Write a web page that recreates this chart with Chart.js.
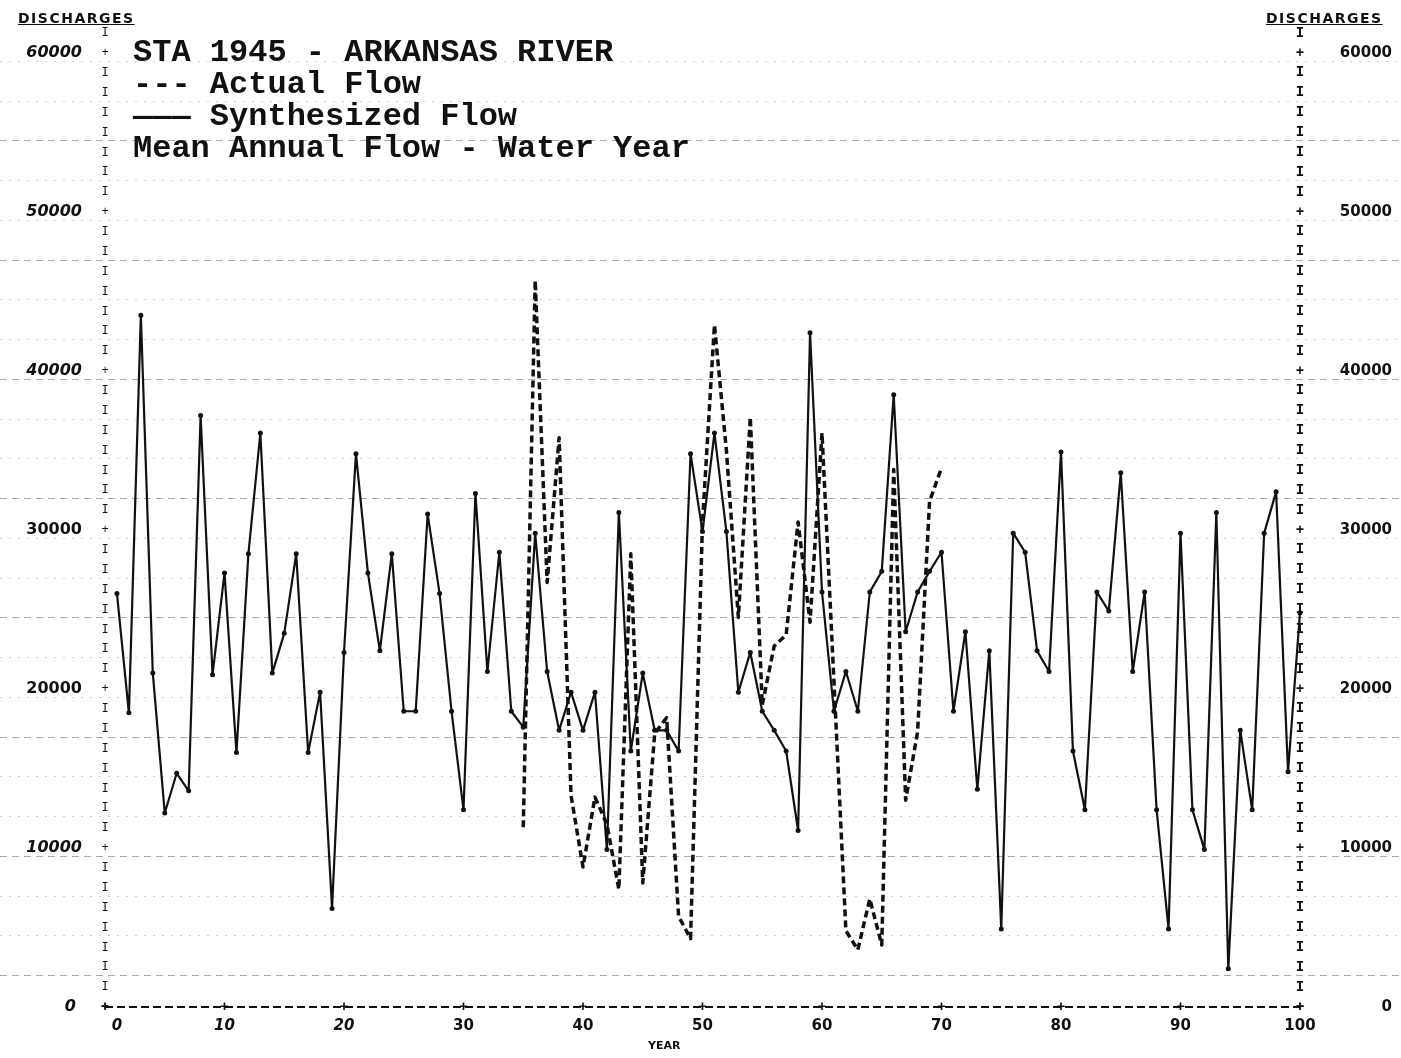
<!DOCTYPE html>
<html>
<head>
<meta charset="utf-8">
<script src="https://cdn.jsdelivr.net/npm/chart.js@4.4.1/dist/chart.umd.min.js"></script>
<style>
    body { margin: 0; background: #fff; }
    #quadro { position: relative; width: 1401px; height: 1058px; }
    #titulo {
        position: absolute; left: 133px; top: 37px; color: #111;
        font: bold 32px "Liberation Mono", monospace; line-height: 32px; white-space: pre;
    }
    .eixo {
        position: absolute; top: 10px; color: #111; letter-spacing: 1.5px;
        font: bold 14px "DejaVu Sans", sans-serif; text-decoration: underline;
    }
    #ano { position: absolute; left: 648px; top: 1039px; font: bold 11px "DejaVu Sans", sans-serif; color: #111; }
</style>
</head>
<body>
<div id="quadro">
    <canvas id="grafico"></canvas>
    <div id="titulo">STA 1945 - ARKANSAS RIVER
--- Actual Flow
——— Synthesized Flow
Mean Annual Flow - Water Year</div>
    <div class="eixo" style="left:18px">DISCHARGES</div>
    <div class="eixo" style="left:1266px">DISCHARGES</div>
    <div id="ano">YEAR</div>
</div>
<script>
// dados (vazao media anual)
const anoInicialSintetizado = 1;
const vazaoSintetizada = [
    26000, 18500, 43500, 21000, 12200, 14700, 13600, 37200, 20900, 27300,
    16000, 28500, 36100, 21000, 23500, 28500, 16000, 19800, 6200, 22300,
    34800, 27300, 22400, 28500, 18600, 18600, 31000, 26000, 18600, 12400,
    32300, 21100, 28600, 18600, 17600, 29800, 21100, 17400, 19800, 17400,
    19800, 9900, 31100, 16100, 21000, 17400, 17400, 16100, 34800, 29900,
    36100, 29900, 19800, 22300, 18600, 17400, 16100, 11100, 42400, 26100,
    18600, 21100, 18600, 26100, 27400, 38500, 23600, 26100, 27400, 28600,
    18600, 23600, 13700, 22400, 4900, 29800, 28600, 22400, 21100, 34900,
    16100, 12400, 26100, 24900, 33600, 21100, 26100, 12400, 4900, 29800,
    12400, 9900, 31100, 2400, 17400, 12400, 29800, 32400, 14800, 24800
];

const anoInicialReal = 35;
const vazaoReal = [
    11300, 45700, 26700, 35800, 13300, 8800, 13200, 11500, 7400, 28500,
    7800, 17200, 18200, 5700, 4300, 30500, 42900, 35000, 24500, 37100,
    19000, 22700, 23400, 30500, 24200, 36100, 20500, 4800, 3600, 6800,
    3900, 33800, 13000, 17300, 31800, 33900
];

// eixos
const xTicks = [0, 10, 20, 30, 40, 50, 60, 70, 80, 90, 100];
const xTickLabels = ['0', '10', '20', '30', '40', '50', '60', '70', '80', '90', '100'];
const yTicks = [0, 10000, 20000, 30000, 40000, 50000, 60000];
const yTickLabels = ['0', '10000', '20000', '30000', '40000', '50000', '60000'];

// linhas do papel quadriculado
const gradeForte = [2000, 9500, 17000, 24500, 32000, 39500, 47000, 54500];
const gradeFraca = [4500, 7000, 12000, 14500, 19500, 22000, 27000, 29500, 34500,
    37000, 42000, 44500, 49500, 52000, 57000, 59500];

function montaPontos(anoInicial, valores) {
    return valores.map((v, i) => ({ x: anoInicial + i, y: v }));
}

const rotulosItalicos = ['60000', '50000', '40000', '10000', '0'];

const papel = {
    id: 'papel',
    beforeDatasetsDraw(chart) {
        const ctx = chart.ctx;
        const y = chart.scales.y;
        ctx.save();
        ctx.lineWidth = 1;
        gradeFraca.forEach(v => {
            const py = Math.round(y.getPixelForValue(v)) + 0.5;
            ctx.strokeStyle = '#d2d2d2';
            ctx.setLineDash([2, 7]);
            ctx.beginPath(); ctx.moveTo(0, py); ctx.lineTo(chart.width, py); ctx.stroke();
        });
        gradeForte.forEach(v => {
            const py = Math.round(y.getPixelForValue(v)) + 0.5;
            ctx.strokeStyle = '#aaaaaa';
            ctx.setLineDash([7, 5]);
            ctx.beginPath(); ctx.moveTo(0, py); ctx.lineTo(chart.width, py); ctx.stroke();
        });
        ctx.restore();
    },
    afterDatasetsDraw(chart) {
        const ctx = chart.ctx;
        const x = chart.scales.x;
        const y = chart.scales.y;
        const esq = x.getPixelForValue(0);
        const dir = x.getPixelForValue(100);
        const base = y.getPixelForValue(0);
        ctx.save();
        ctx.fillStyle = '#111';
        ctx.textAlign = 'center';
        ctx.textBaseline = 'middle';

        // eixo inferior tracejado
        ctx.strokeStyle = '#111';
        ctx.lineWidth = 2;
        ctx.setLineDash([8, 4]);
        ctx.beginPath(); ctx.moveTo(esq, base); ctx.lineTo(dir, base); ctx.stroke();
        ctx.setLineDash([]);

        // marcas "I" e "+" nos eixos verticais
        for (let v = 0; v <= 61250; v += 1250) {
            const py = y.getPixelForValue(v);
            const marca = v % 10000 === 0 ? '+' : 'I';
            ctx.font = '12px "Liberation Mono"';
            ctx.fillText(marca, esq, py);
            ctx.font = 'bold 14px "Liberation Mono"';
            ctx.fillText(marca, dir, py);
        }
        ctx.font = 'bold 15px "Liberation Mono"';
        xTicks.forEach(t => ctx.fillText('+', x.getPixelForValue(t), base));

        // rotulos
        xTicks.forEach((t, i) => {
            const italico = i < 3 ? 'italic ' : '';
            ctx.font = italico + 'bold 15px "DejaVu Sans"';
            ctx.fillText(xTickLabels[i], x.getPixelForValue(t) + (t === 0 ? 12 : 0), base + 19);
        });
        yTicks.forEach((t, i) => {
            const py = y.getPixelForValue(t);
            const rot = yTickLabels[i];
            ctx.textAlign = 'right';
            ctx.font = (rotulosItalicos.includes(rot) ? 'italic ' : '') + 'bold 16px "DejaVu Sans"';
            ctx.fillText(rot, t === 0 ? 76 : 82, py);
            ctx.font = 'bold 15px "DejaVu Sans"';
            ctx.fillText(rot, 1392, py);
        });
        ctx.restore();
    }
};

function criaGrafico() {
    const ctx = document.getElementById('grafico');
    new Chart(ctx, {
        type: 'line',
        data: {
            datasets: [
                {
                    label: 'Synthesized Flow',
                    data: montaPontos(anoInicialSintetizado, vazaoSintetizada),
                    borderColor: '#111',
                    backgroundColor: '#111',
                    borderWidth: 2.2,
                    borderJoinStyle: 'round',
                    pointRadius: 2.5,
                    pointBorderWidth: 0,
                    tension: 0,
                    clip: false
                },
                {
                    label: 'Actual Flow',
                    data: montaPontos(anoInicialReal, vazaoReal),
                    borderColor: '#111',
                    borderWidth: 3.5,
                    borderDash: [7, 4],
                    borderJoinStyle: 'round',
                    pointRadius: 0,
                    tension: 0,
                    clip: false
                }
            ]
        },
        options: {
            responsive: true,
            maintainAspectRatio: false,
            animation: false,
            events: [],
            layout: { padding: { left: 105, right: 101, top: 53, bottom: 51 } },
            scales: {
                x: { type: 'linear', min: 0, max: 100, display: false },
                y: { min: 0, max: 60000, display: false }
            },
            plugins: {
                legend: { display: false },
                title: { display: false },
                tooltip: { enabled: false }
            }
        },
        plugins: [papel]
    });
}

document.getElementById('grafico').parentNode.style.height = '1058px';
criaGrafico();
</script>
</body>
</html>
